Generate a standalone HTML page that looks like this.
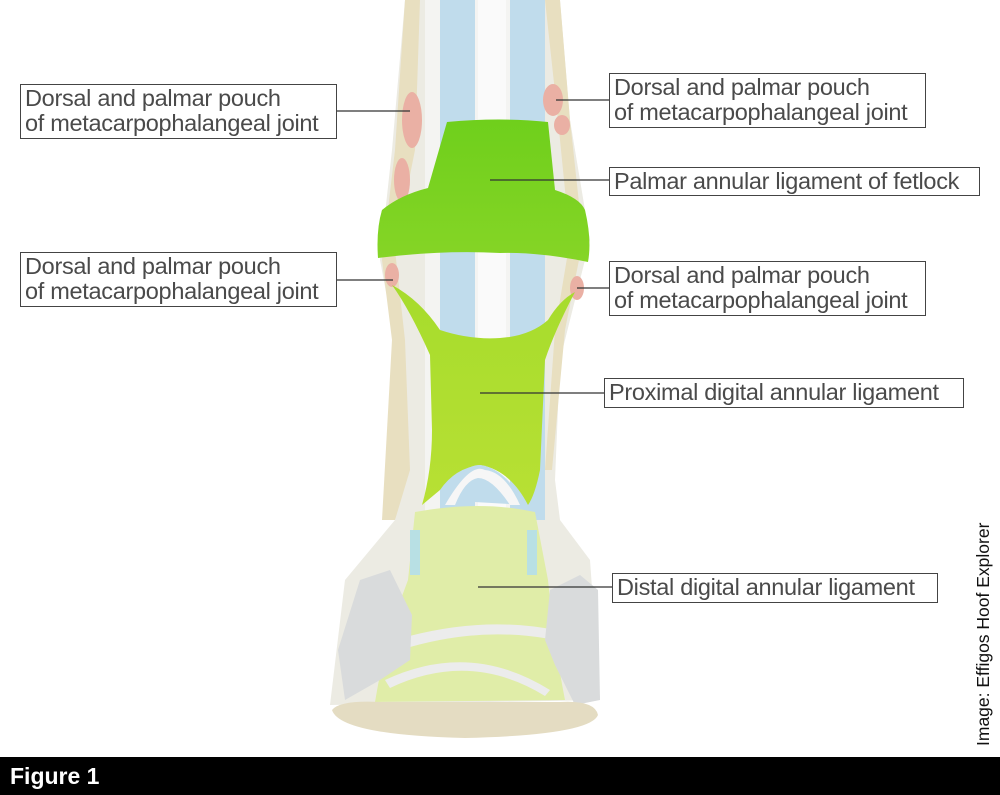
<!DOCTYPE html>
<html><head><meta charset="utf-8"><style>
html,body{margin:0;padding:0;background:#fff;}
body{width:1000px;height:795px;position:relative;overflow:hidden;font-family:"Liberation Sans",sans-serif;}
.lb{position:absolute;border:1.5px solid #444;background:#fff;color:#4a4a4a;font-size:23.5px;line-height:25px;padding:1px 4px;box-sizing:border-box;white-space:nowrap;letter-spacing:-0.3px;}
.bar{position:absolute;left:0;top:757px;width:1000px;height:38px;background:#000;color:#fff;font-weight:bold;font-size:23px;line-height:38px;padding-left:10px;box-sizing:border-box;}
.credit{position:absolute;left:973px;top:746px;transform-origin:0 0;transform:rotate(-90deg);font-size:17.5px;color:#111;white-space:nowrap;}
</style></head><body>
<svg width="1000" height="795" style="position:absolute;left:0;top:0">
<defs>
<linearGradient id="g1" x1="0" y1="0" x2="0" y2="1"><stop offset="0" stop-color="#6fcf1c"/><stop offset="1" stop-color="#86d526"/></linearGradient>
<linearGradient id="g2" x1="0" y1="0" x2="0" y2="1"><stop offset="0" stop-color="#a6dc2c"/><stop offset="1" stop-color="#b8e034"/></linearGradient>
</defs>
<path d="M405,0 L560,0 L570,120 L590,240 L575,300 L560,360 L555,480 L560,520 L590,560 L600,700 L330,705 L345,580 L395,520 L405,470 L395,340 L380,260 L392,150 Z" fill="#ecebe3"/>
<path d="M405,0 L420,0 L415,150 L395,250 L405,340 L410,470 L395,520 L382,520 L392,340 L382,260 L395,150 Z" fill="#e8dfc0"/>
<path d="M545,0 L560,0 L570,120 L583,240 L565,330 L552,470 L545,470 L555,330 L570,240 L558,120 Z" fill="#e8dfc0"/>
<rect x="425" y="0" width="115" height="520" fill="#f4f4f2"/>
<rect x="440" y="0" width="35" height="520" fill="#c0dcec"/>
<rect x="510" y="0" width="35" height="520" fill="#c0dcec"/>
<rect x="478" y="0" width="28" height="520" fill="#fafafa"/>
<ellipse cx="412" cy="120" rx="10" ry="28" fill="#eab0a4"/>
<ellipse cx="402" cy="180" rx="8" ry="22" fill="#eab0a4"/>
<ellipse cx="553" cy="100" rx="10" ry="16" fill="#eab0a4"/>
<ellipse cx="562" cy="125" rx="8" ry="10" fill="#eab0a4"/>
<ellipse cx="392" cy="275" rx="7" ry="12" fill="#eab0a4"/>
<ellipse cx="577" cy="288" rx="7" ry="12" fill="#eab0a4"/>
<path d="M447,122 Q500,117 548,122 L555,190 Q580,198 585,210 Q592,240 588,262 Q540,252 500,253 Q440,250 378,258 Q376,230 382,210 Q400,195 428,188 Z" fill="url(#g1)"/>
<path d="M392,285 Q420,300 440,330 Q470,340 500,338 Q530,336 548,320 Q560,300 575,292 Q555,330 545,360 L540,470 Q535,495 528,505 Q510,470 480,465 Q455,468 440,490 L422,505 Q432,470 432,430 L430,355 Q410,310 392,285 Z" fill="url(#g2)"/>
<path d="M440,500 Q460,465 480,465 Q505,468 525,505 Z" fill="#c0dcec"/>
<path d="M445,505 Q470,462 485,470 Q505,472 520,505 L510,505 Q492,478 478,478 Q465,480 455,505 Z" fill="#f6f6f6"/>
<path d="M415,512 Q480,500 535,512 L548,580 Q555,650 565,700 L375,702 Q385,640 408,580 Z" fill="#e0eda8"/>
<rect x="410" y="530" width="10" height="45" fill="#b8e0e4"/>
<rect x="527" y="530" width="10" height="45" fill="#b8e0e4"/>
<path d="M395,640 Q480,615 555,630 L555,640 Q480,625 400,650 Z" fill="#ececec"/>
<path d="M385,680 Q470,640 550,690 L545,696 Q470,650 390,688 Z" fill="#ececec"/>
<path d="M360,580 L390,570 L412,615 L410,660 L380,680 L345,700 L338,650 Z" fill="#d9dbdc"/>
<path d="M545,640 L550,590 L580,575 L598,590 L600,700 L575,705 L555,665 Z" fill="#d9dbdc"/>
<path d="M332,710 Q340,700 380,702 L560,702 Q595,700 598,715 Q590,735 465,738 Q340,735 332,710 Z" fill="#e4dcc2"/>
<g stroke="#333" stroke-width="1.3">
<line x1="337" y1="111" x2="410" y2="111"/>
<line x1="556" y1="100" x2="610" y2="100"/>
<line x1="490" y1="180" x2="610" y2="180"/>
<line x1="337" y1="280" x2="393" y2="280"/>
<line x1="577" y1="288" x2="610" y2="288"/>
<line x1="480" y1="393" x2="605" y2="393"/>
<line x1="478" y1="587" x2="613" y2="587"/>
</g>
</svg>
<div class="lb" style="left:20px;top:84px;width:317px;height:55px">Dorsal and palmar pouch<br>of metacarpophalangeal joint</div>
<div class="lb" style="left:609px;top:73px;width:317px;height:55px">Dorsal and palmar pouch<br>of metacarpophalangeal joint</div>
<div class="lb" style="left:609px;top:167px;width:371px;height:29px">Palmar annular ligament of fetlock</div>
<div class="lb" style="left:20px;top:252px;width:317px;height:55px">Dorsal and palmar pouch<br>of metacarpophalangeal joint</div>
<div class="lb" style="left:609px;top:261px;width:317px;height:55px">Dorsal and palmar pouch<br>of metacarpophalangeal joint</div>
<div class="lb" style="left:604px;top:378px;width:360px;height:30px">Proximal digital annular ligament</div>
<div class="lb" style="left:612px;top:573px;width:326px;height:30px">Distal digital annular ligament</div>
<div class="credit">Image: Effigos Hoof Explorer</div>
<div class="bar">Figure 1</div>
</body></html>
